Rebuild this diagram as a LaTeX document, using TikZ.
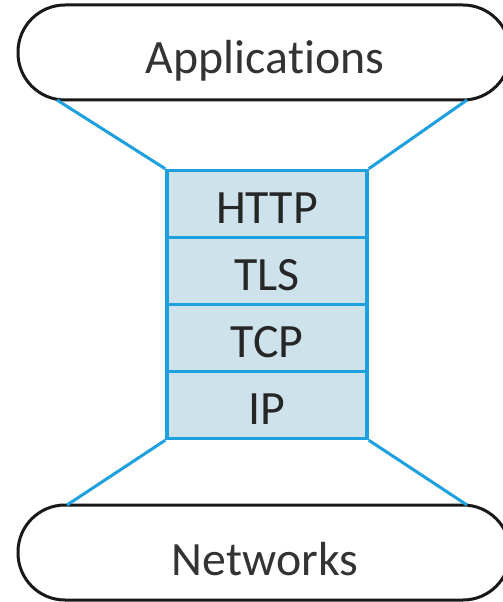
\documentclass[tikz,border=0pt]{standalone}
\usepackage{fontspec}
\setmainfont{Carlito}[Ligatures=NoCommon]
\begin{document}
\begin{tikzpicture}[x=1bp,y=-1bp,
  pill/.style={draw=black!90, line width=3bp, fill=white, rounded corners=47bp},
  captext/.style={font=\fontsize{48}{52}\selectfont, text=black!80},
  layertext/.style={font=\fontsize{48}{52}\selectfont, text=black!85, yshift=-4bp},
  layer/.style={draw=linkblue, line width=3.4bp, fill=layerfill, minimum width=200bp,
    minimum height=67bp},
  link/.style={draw=linkblue, line width=3bp}]
\definecolor{linkblue}{RGB}{28,160,222}
\definecolor{layerfill}{RGB}{206,226,236}
\useasboundingbox (0,0) rectangle (503,602);
\fill[white] (0,0) rectangle (503,602);

% protocol stack
\node[layer, label={[layertext]center:HTTP}] (http) at (267,204) {};
\node[layer, label={[layertext]center:TLS}]  (tls)  at (267,271) {};
\node[layer, label={[layertext]center:TCP}]  (tcp)  at (267,338) {};
\node[layer, label={[layertext]center:IP}]   (ip)   at (267,405) {};

% end caps
\draw[pill] (18,5) rectangle (510,100);
\node[captext] (apps) at (265,61) {Applications};
\draw[pill] (18,505) rectangle (510,600);
\node[captext] (nets) at (265,559) {Networks};

% funnel lines
\coordinate (al) at (57,100);
\coordinate (ar) at (467,100);
\coordinate (nl) at (67,505);
\coordinate (nr) at (467,505);
\draw[link] (al) -- (http.north west);
\draw[link] (ar) -- (http.north east);
\draw[link] (nl) -- (ip.south west);
\draw[link] (nr) -- (ip.south east);
\end{tikzpicture}
\end{document}
